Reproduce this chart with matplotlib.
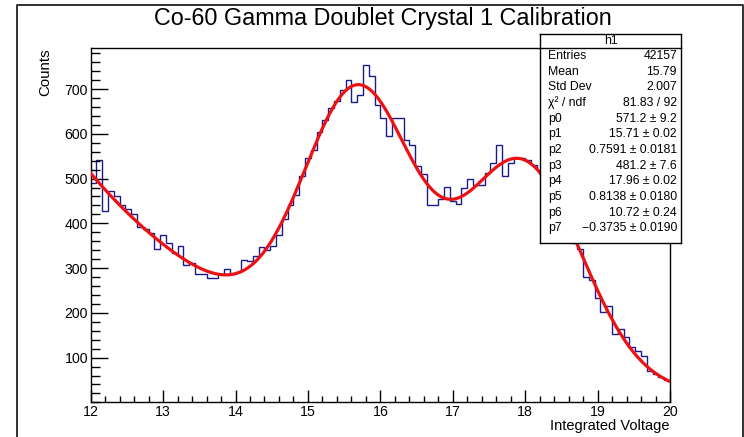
import matplotlib
matplotlib.use('Agg')
import matplotlib.pyplot as plt
import numpy as np
from matplotlib.ticker import MultipleLocator

##########################################
#Data
x_min = 12.
x_max = 20.
counts = [490, 541, 427, 472, 461, 442, 432, 420, 392, 388, 379, 343, 373, 355, 334, 349, 306,
	312, 286, 286, 277, 277, 287, 297, 287, 292, 318, 315, 327, 348, 340, 350, 375, 410,
	442, 464, 505, 547, 564, 605, 631, 657, 674, 698, 720, 672, 687, 754, 730, 665, 635,
	594, 635, 635, 587, 576, 527, 510, 442, 442, 455, 481, 451, 444, 479, 498, 485, 485,
	513, 535, 576, 505, 535, 546, 546, 542, 531, 520, 500, 470, 455, 420, 400, 355, 343,
	281, 273, 234, 201, 216, 153, 164, 145, 123, 115, 103, 71, 63, 56, 49]

#fit parameters (gaus + gaus + expo) as printed in the stats box
par = [571.2, 15.71, 0.7591, 481.2, 17.96, 0.8138, 10.72, -0.3735]
par_err = ['9.2', '0.02', '0.0181', '7.6', '0.02', '0.0180', '0.24', '0.0190']
par_txt = ['571.2', '15.71', '0.7591', '481.2', '17.96', '0.8138', '10.72', '\u22120.3735']

stat_names = ['Entries', 'Mean', 'Std Dev', '\u03c7\u00b2 / ndf']
stat_vals = ['42157', '15.79', '2.007', '81.83 / 92']

title = 'Co-60 Gamma Doublet Crystal 1 Calibration'
hist_name = 'h1'

##########################################
#Style
plt.rcParams['font.family'] = ['Liberation Sans', 'DejaVu Sans']
W, H = 744, 437
hist_color = '#1a1a8c'

def fx(px):
	return px / W

def fy(py):
	return 1 - py / H

fig = plt.figure(figsize=[W / 100., H / 100.], dpi=100)
fig.patch.set_facecolor('white')

#canvas border
fig.add_artist(plt.Line2D([fx(17), fx(17), fx(742.5), fx(742.5)], [0, fy(4.5), fy(4.5), 0],
	color='#222222', lw=1.3, transform=fig.transFigure))

ax = fig.add_axes([fx(90.7), fy(402.4), fx(670) - fx(90.7), fy(48) - fy(402.4)])

edges = np.linspace(x_min, x_max, len(counts) + 1)
ax.stairs(counts, edges, baseline=None, color=hist_color, lw=1.0)

#fit function drawn from the printed parameters
xf = np.linspace(x_min, x_max, 400)
yf = (par[0] * np.exp(-0.5 * ((xf - par[1]) / par[2]) ** 2)
	+ par[3] * np.exp(-0.5 * ((xf - par[4]) / par[5]) ** 2)
	+ np.exp(par[6] + par[7] * xf))
ax.plot(xf, yf, color='#ee1111', lw=2.3, zorder=3)

ax.set_xlim(x_min, x_max)
ax.set_ylim(0, 1.05 * max(counts))

ax.xaxis.set_major_locator(MultipleLocator(1))
ax.xaxis.set_minor_locator(MultipleLocator(0.2))
ax.yaxis.set_major_locator(MultipleLocator(100))
ax.yaxis.set_minor_locator(MultipleLocator(20))
ax.set_yticks(np.arange(100, 800, 100))
ax.tick_params(axis='both', which='both', direction='in', top=False, right=False, labelsize=10.2, colors='black')
ax.tick_params(axis='y', which='major', length=12.5, width=1, pad=2)
ax.tick_params(axis='y', which='minor', length=6.5, width=1)
ax.tick_params(axis='x', which='major', length=8.5, width=1, pad=2)
ax.tick_params(axis='x', which='minor', length=4.2, width=1)
for sp in ax.spines.values():
	sp.set_linewidth(1.0)

ax.set_xlabel('Integrated Voltage', fontsize=10.5, loc='right', labelpad=0)
ax.set_ylabel('Counts', fontsize=10.8, loc='top', labelpad=9)

fig.text(fx(383), fy(18), title, fontsize=16.8, ha='center', va='center')

#stats box
bx0, bx1, by0, by1 = 540, 681, 34, 243
sax = fig.add_axes([fx(bx0), fy(by1), fx(bx1) - fx(bx0), fy(by0) - fy(by1)])
sax.set_xticks([])
sax.set_yticks([])
sax.set_facecolor('white')
for sp in sax.spines.values():
	sp.set_linewidth(1.0)
sax.set_zorder(5)
fig.add_artist(plt.Line2D([fx(bx0), fx(bx1)], [fy(47.7), fy(47.7)], color='black', lw=1.0,
	transform=fig.transFigure, zorder=6))
fig.text(fx((bx0 + bx1) / 2.), fy(41), hist_name, fontsize=8.8, ha='center', va='center', zorder=7)

rows_l = stat_names + ['p%d' % i for i in range(len(par))]
rows_r = stat_vals + [par_txt[i] + ' \u00b1 ' + par_err[i] for i in range(len(par))]
for ri in range(len(rows_l)):
	yy = fy(56 + ri * 15.65)
	fig.text(fx(548), yy, rows_l[ri], fontsize=8.8, ha='left', va='center', zorder=7)
	fig.text(fx(677), yy, rows_r[ri], fontsize=8.8, ha='right', va='center', zorder=7)

plt.savefig('out.png', dpi=100)
